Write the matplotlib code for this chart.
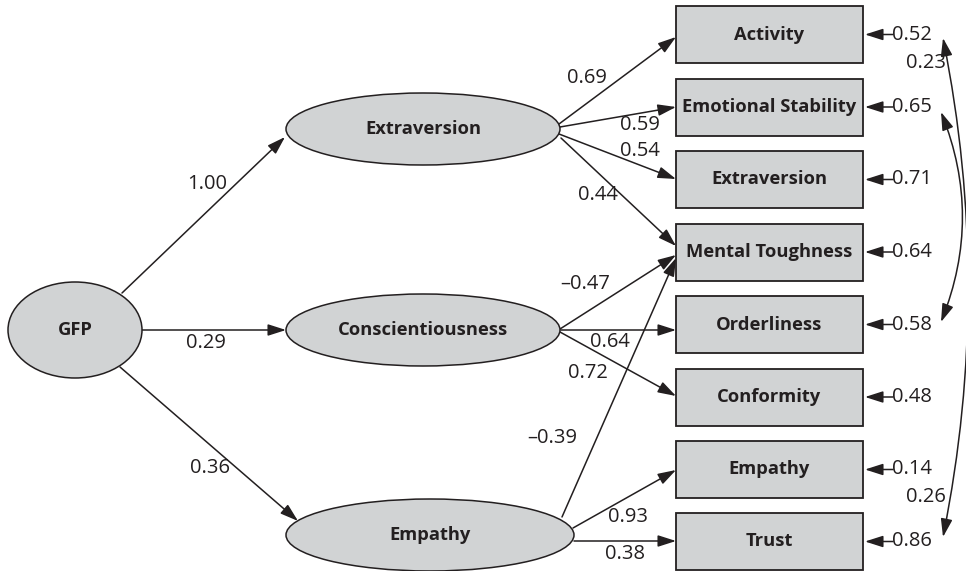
import matplotlib
matplotlib.use("Agg")
import matplotlib.pyplot as plt
from matplotlib.patches import Ellipse, Rectangle, FancyArrowPatch

plt.rcParams['font.family'] = ['Open Sans', 'DejaVu Sans']

# ---------------- data ----------------
gfp = "GFP"
factors = ["Extraversion", "Conscientiousness", "Empathy"]
gfp_loadings = [1.00, 0.29, 0.36]
indicators = ["Activity", "Emotional Stability", "Extraversion", "Mental Toughness",
              "Orderliness", "Conformity", "Empathy", "Trust"]
residuals = [0.52, 0.65, 0.71, 0.64, 0.58, 0.48, 0.14, 0.86]
# (factor index, indicator index, loading)
paths_from = [0, 0, 0, 0, 1, 1, 1, 2, 2, 2]
paths_to = [0, 1, 2, 3, 3, 4, 5, 3, 6, 7]
path_values = [0.69, 0.59, 0.54, 0.44, -0.47, 0.64, 0.72, -0.39, 0.93, 0.38]
cov_pairs = [(0, 7), (1, 4)]
cov_values = [0.23, 0.26]

# ---------------- layout (pixel coordinates) ----------------
W, H = 966, 571
fig = plt.figure(figsize=(W / 100, H / 100), dpi=100)
ax = fig.add_axes([0, 0, 1, 1])
ax.set_xlim(0, W)
ax.set_ylim(H, 0)
ax.axis('off')

TXT = '#231f20'
FILL = '#d1d3d4'
EDGE = '#231f20'
LBL = 13.2
NUM = 14.5

gfp_pos = (75, 330, 134, 96)
fac_pos = [(423, 129, 274, 72), (423, 330, 274, 72), (430, 535, 288, 72)]
box_x0, box_w, box_h = 676, 187, 57
box_cy = [34.5, 107, 179.5, 252, 324.5, 397, 469.5, 541.5]

ax.add_patch(Ellipse(gfp_pos[:2], gfp_pos[2], gfp_pos[3], facecolor=FILL, edgecolor=EDGE, lw=1.1, zorder=2))
ax.text(gfp_pos[0], gfp_pos[1], gfp, ha='center', va='center', fontsize=LBL, fontweight='bold', color=TXT, zorder=3)
for (cx, cy, w, h), name in zip(fac_pos, factors):
    ax.add_patch(Ellipse((cx, cy), w, h, facecolor=FILL, edgecolor=EDGE, lw=1.1, zorder=2))
    ax.text(cx, cy, name, ha='center', va='center', fontsize=LBL, fontweight='bold', color=TXT, zorder=3)

for cy, name in zip(box_cy, indicators):
    ax.add_patch(Rectangle((box_x0, cy - box_h / 2), box_w, box_h, facecolor=FILL, edgecolor=EDGE, lw=1.3, zorder=2))
    ax.text(box_x0 + box_w / 2, cy, name, ha='center', va='center', fontsize=LBL, fontweight='bold', color=TXT, zorder=3)

AS = "-|>,head_length=1.0,head_width=0.32"


def arrow(p0, p1, style=AS, conn="arc3,rad=0"):
    a = FancyArrowPatch(p0, p1, arrowstyle=style, connectionstyle=conn, mutation_scale=11,
                        color=TXT, lw=1.1, shrinkA=0, shrinkB=0, zorder=1)
    ax.add_patch(a)


def fmt(v):
    s = f"{abs(v):.2f}"
    return ("\u2013" + s) if v < 0 else s


# GFP -> factors
gfp_start = [(122, 293), (142, 330), (120, 367)]
gfp_end = [(285, 137), (286, 330), (298, 521)]
gfp_lab = [(207, 184), (206, 343), (210, 468)]
for s, e, lp, v in zip(gfp_start, gfp_end, gfp_lab, gfp_loadings):
    arrow(s, e)
    ax.text(lp[0], lp[1], fmt(v), ha='center', va='center', fontsize=NUM, color=TXT)

# factors -> indicators
p_start = [(559, 124), (560, 127), (559, 134), (561, 138), (560, 329), (561, 330), (560, 332), (562, 517), (573, 528), (574, 541)]
p_end = [(676, 37), (676, 107), (676, 179), (676, 246), (676, 255), (676, 330), (676, 396), (676, 258), (676, 470), (676, 541)]
p_lab = [(587, 78), (640, 125), (640, 151), (598, 195), (585, 284), (610, 342), (588, 373), (552, 438), (628, 517), (625, 554)]
for f, t, v, s, e, lp in zip(paths_from, paths_to, path_values, p_start, p_end, p_lab):
    arrow(s, e)
    ax.text(lp[0], lp[1], fmt(v), ha='center', va='center', fontsize=NUM, color=TXT)

# residuals
for cy, r in zip(box_cy, residuals):
    arrow((893, cy), (865, cy))
    ax.text(892, cy, f"{r:.2f}", ha='left', va='center', fontsize=NUM, color=TXT)

# covariances (curved double-headed)
cov_pts = [((943, 38), (943, 537), -0.1), ((941, 112), (941, 322), -0.2)]
cov_lab = [(946, 63), (946, 497)]
DS = "<|-|>,head_length=1.0,head_width=0.32"
for (p0, p1, rad), lp, v in zip(cov_pts, cov_lab, cov_values):
    arrow(p0, p1, style=DS, conn=f"arc3,rad={rad}")
    ax.text(lp[0], lp[1], fmt(v), ha='right', va='center', fontsize=NUM, color=TXT)

fig.savefig("out.png", dpi=100, facecolor='white')
